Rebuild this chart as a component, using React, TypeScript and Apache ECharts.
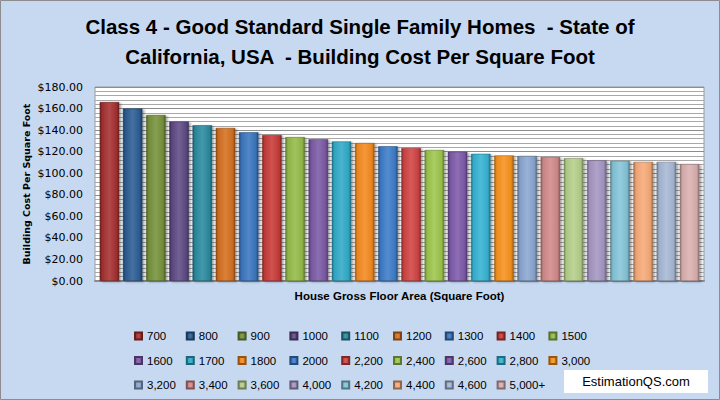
import { useEffect, useRef } from "react";
import * as echarts from "echarts";

const sizes = [
  "700", "800", "900", "1000", "1100", "1200", "1300", "1400", "1500",
  "1600", "1700", "1800", "2000", "2,200", "2,400", "2,600", "2,800", "3,000",
  "3,200", "3,400", "3,600", "4,000", "4,200", "4,400", "4,600", "5,000+",
];

const costs = [
  166, 160, 154, 148, 144.5, 142, 138, 135.5, 133.5,
  131.5, 129.5, 128, 125, 123.5, 121.5, 120, 118, 116.5,
  116, 115, 114, 112, 111.5, 110.5, 110.5, 108.5,
];

const barColors = [
  "#a5302f", "#2c5d94", "#76923c", "#5f4a85", "#2a8ba0", "#d5701e", "#3a76c0", "#c83b38", "#94bb48",
  "#7b5aa6", "#31aac8", "#f58a1f", "#3d7cc9", "#d04343", "#9dc64c", "#7d5aaa", "#35b3d3", "#f7921e",
  "#8aa6d0", "#d38a8a", "#b5cf8a", "#a596c2", "#85c5d9", "#f7aa78", "#a7b8d5", "#dbb0b0",
];

const yTicks = { min: 0, max: 180, interval: 20 };

const SANS = "'Liberation Sans', Arial, sans-serif";

// mix a hex colour towards black (f<0) or white (f>0)
function shade(hex: string, f: number) {
  const n = parseInt(hex.slice(1), 16);
  const c = [(n >> 16) & 255, (n >> 8) & 255, n & 255].map((v) =>
    Math.round(f < 0 ? v * (1 + f) : v + (255 - v) * f)
  );
  return `rgb(${c[0]},${c[1]},${c[2]})`;
}

function barFill(hex: string) {
  return new echarts.graphic.LinearGradient(0, 0, 1, 0, [
    { offset: 0, color: shade(hex, -0.35) },
    { offset: 0.12, color: shade(hex, -0.05) },
    { offset: 0.5, color: shade(hex, 0.12) },
    { offset: 0.88, color: shade(hex, -0.05) },
    { offset: 1, color: shade(hex, -0.35) },
  ]);
}

export default function App() {
  const divRef = useRef<HTMLDivElement>(null);

  useEffect(() => {
    document.body.style.margin = "0";
    if (!divRef.current) return;
    const chart = echarts.init(divRef.current, null, { renderer: "svg" });

    // legend laid out as 9 columns of (up to) 3 rows
    const columns: string[][] = [];
    sizes.forEach((s, i) => {
      const c = i % 9;
      (columns[c] = columns[c] || []).push(s);
    });

    const option = {
      animation: false,
      backgroundColor: "#c6d9f1",
      title: {
        text: "Class 4 - Good Standard Single Family Homes  - State of\nCalifornia, USA  - Building Cost Per Square Foot",
        left: "center",
        top: 6,
        textStyle: {
          fontFamily: SANS,
          fontWeight: "bold",
          fontSize: 20.5,
          lineHeight: 30,
          color: "#000",
        },
      },
      legend: columns.map((col, c) => ({
        data: col,
        left: 129 + c * 51.8,
        top: 324,
        orient: "vertical",
        icon: "rect",
        itemWidth: 7,
        itemHeight: 7,
        itemGap: 10.5,
        selectedMode: false,
        textStyle: {
          fontFamily: SANS,
          fontSize: 11.5,
          color: "#000",
          lineHeight: 14,
        },
      })),
      grid: {
        left: 95,
        right: 16,
        top: 87,
        bottom: 119,
        show: true,
        backgroundColor: "#ffffff",
        borderColor: "#9a9a9a",
        borderWidth: 1,
      },
      xAxis: {
        type: "category",
        data: [""],
        name: "House Gross Floor Area (Square Foot)",
        nameLocation: "middle",
        nameGap: 9,
        nameTextStyle: {
          fontFamily: SANS,
          fontWeight: "bold",
          fontSize: 11.5,
          color: "#000",
        },
        axisLabel: { show: false },
        axisTick: { show: false },
        axisLine: { lineStyle: { color: "#8c8c8c", width: 2 } },
      },
      yAxis: {
        type: "value",
        ...yTicks,
        name: "Building Cost Per Square Foot",
        nameLocation: "middle",
        nameRotate: 90,
        nameGap: 64,
        nameMoveOverlap: false,
        nameTextStyle: {
          fontFamily: "'DejaVu Sans', sans-serif",
          fontWeight: "bold",
          fontSize: 9.5,
          color: "#000",
        },
        axisLabel: {
          formatter: (v: number) => `$${v.toFixed(2)}`,
          fontFamily: "'DejaVu Sans', sans-serif",
          fontSize: 11,
          color: "#000",
          margin: 12,
        },
        axisLine: { show: false },
        axisTick: { show: false },
        splitLine: { lineStyle: { color: "#8c8c8c", width: 1 } },
        minorTick: { show: false, splitNumber: 5 },
        minorSplitLine: { show: true, lineStyle: { color: "#a8a8a8", width: 1 } },
      },
      series: sizes.map((name, i) => ({
        name,
        type: "bar",
        data: [costs[i]],
        barWidth: 19.5,
        barGap: "19%",
        itemStyle: {
          color: barFill(barColors[i]),
          borderColor: shade(barColors[i], -0.4),
          borderWidth: 0.5,
          shadowColor: "rgba(0,0,0,0.35)",
          shadowBlur: 2,
          shadowOffsetX: 2,
          shadowOffsetY: 1,
        },
      })),
      graphic: [
        {
          type: "rect",
          shape: { x: 0.5, y: 0.5, width: 719, height: 399 },
          style: { fill: "none", stroke: "#8c8c8c", lineWidth: 1 },
          silent: true,
        },
        {
          type: "rect",
          shape: { x: 564, y: 370, width: 144, height: 23 },
          style: { fill: "#ffffff" },
        },
        {
          type: "text",
          x: 636,
          y: 381.5,
          style: {
            text: "EstimationQS.com",
            fontFamily: SANS,
            fontSize: 13,
            fill: "#000",
            align: "center",
            verticalAlign: "middle",
          },
        },
      ],
    };

    chart.setOption(option);
    return () => {
      chart.dispose();
    };
  }, []);

  return <div ref={divRef} style={{ width: 720, height: 400 }} />;
}
